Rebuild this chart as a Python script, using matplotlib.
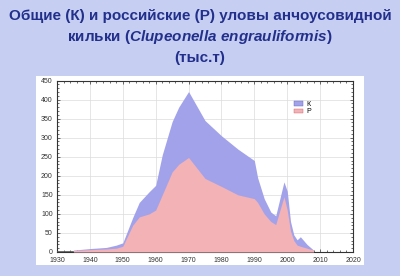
import numpy as np
import matplotlib.pyplot as plt
from matplotlib.patches import Rectangle, Patch
from matplotlib.ticker import MultipleLocator

plt.rcParams['font.family'] = ['Liberation Sans', 'DejaVu Sans']
plt.rcParams['mathtext.fontset'] = 'custom'
plt.rcParams['mathtext.rm'] = 'Liberation Sans:bold'
plt.rcParams['mathtext.it'] = 'Liberation Sans:italic:bold'

# catch, thousand tonnes
years = [1935, 1940, 1945, 1948, 1950, 1953, 1955, 1958, 1960, 1962, 1965, 1967,
         1970, 1975, 1980, 1985, 1990, 1991, 1993, 1995, 1996.5, 1999, 2000,
         2001, 2002, 2003, 2004, 2006, 2008]
total_k = [5, 9, 12, 18, 24, 90, 130, 158, 175, 255, 342, 380,
           421, 345, 305, 270, 240, 195, 140, 105, 95, 184, 160,
           80, 45, 32, 40, 20, 5]
russia_p = [4, 6, 8, 10, 15, 70, 92, 100, 110, 150, 210, 230,
            248, 193, 172, 150, 140, 130, 100, 80, 72, 145, 110,
            55, 30, 18, 15, 10, 5]
zero_years = [1930, 1935]

xticks = np.arange(1930, 2021, 10)
yticks = np.arange(0, 451, 50)

fig = plt.figure(figsize=(4.0, 2.76), dpi=100)
fig.patch.set_facecolor('#c6cef2')
fig.patches.append(Rectangle((36 / 400, 11 / 276), 328 / 400, 189 / 276,
                             transform=fig.transFigure, facecolor='white',
                             edgecolor='none', zorder=0))

navy = '#22308c'
fs = 11
fig.text(0.5, 0.943, 'Общие (К) и российские (Р) уловы анчоусовидной',
         ha='center', va='center', fontsize=fs, fontweight='bold', color=navy)
fig.text(0.5, 0.866, r'кильки ($\mathit{Clupeonella\ engrauliformis}$)',
         ha='center', va='center', fontsize=fs, fontweight='bold', color=navy)
fig.text(0.5, 0.79, '(тыс.т)', ha='center', va='center', fontsize=fs,
         fontweight='bold', color=navy)

ax = fig.add_axes([57 / 400, 24 / 276, 296 / 400, 171.5 / 276])
ax.set_zorder(3)
ax.set_facecolor('white')
ax.fill_between(years, total_k, color='#a2a2ea', linewidth=0, zorder=2)
ax.fill_between(years, russia_p, color='#f2b2b6', linewidth=0, zorder=3)
ax.plot(zero_years, [0, 0], color='#555555', linewidth=1.2, zorder=4)

ax.set_xlim(1930, 2020)
ax.set_ylim(0, 450)
ax.set_xticks(xticks)
ax.set_yticks(yticks)
ax.xaxis.set_minor_locator(MultipleLocator(2))
ax.yaxis.set_minor_locator(MultipleLocator(10))
ax.tick_params(which='both', direction='in', top=True, right=True,
               labelsize=5, colors='#333333', width=0.5)
ax.tick_params(which='major', length=2.5)
ax.tick_params(which='minor', length=1.2)
ax.tick_params(axis='x', pad=3.5)
ax.tick_params(axis='y', pad=3)
ax.grid(True, color='#dcdcdc', linewidth=0.5, zorder=1)
ax.set_axisbelow(True)
for s in ax.spines.values():
    s.set_color('#333333')
    s.set_linewidth(0.8)

handles = [Patch(facecolor='#a2a2ea', edgecolor='#6060c0', linewidth=0.3, label='К'),
           Patch(facecolor='#f2b2b6', edgecolor='#d06060', linewidth=0.3, label='Р')]
ax.legend(handles=handles, loc='upper left', bbox_to_anchor=(0.79, 0.9),
          frameon=False, fontsize=5, handlelength=1.3, handleheight=0.6,
          handletextpad=0.4, labelspacing=0.05, borderpad=0)

fig.savefig('out.png', dpi=100, facecolor=fig.get_facecolor())
